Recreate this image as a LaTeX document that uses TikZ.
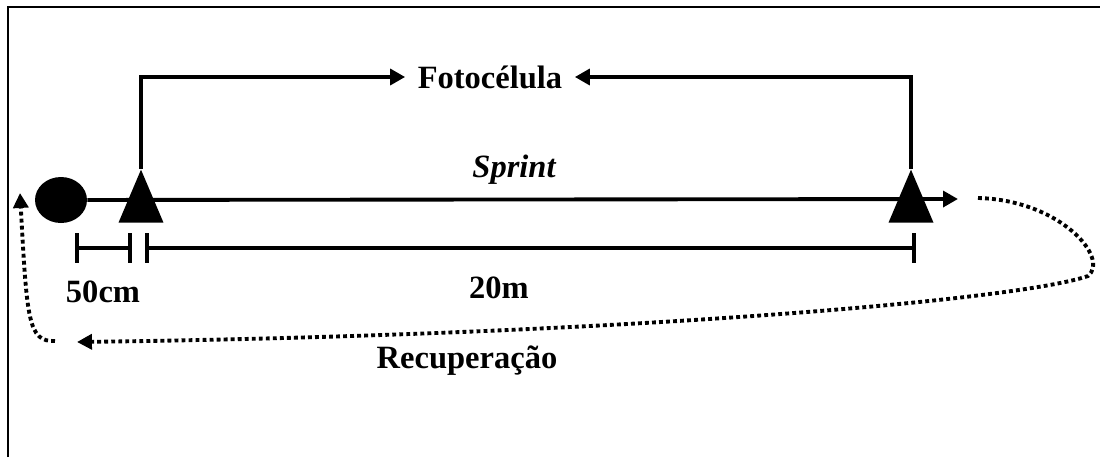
\documentclass[tikz,border=0pt]{standalone}
\usepackage{fontspec}
\setmainfont{Liberation Serif}
\usetikzlibrary{arrows.meta,shapes.geometric}
\tikzset{
    startmark/.style={ellipse,fill=black,minimum width=1.04cm,minimum height=0.92cm,inner sep=0pt},
    conemark/.style={isosceles triangle,shape border rotate=90,isosceles triangle stretches,fill=black,minimum width=0.9cm,minimum height=1.06cm,inner sep=0pt,anchor=lower side},
    tracklabel/.style={font=\fontsize{18.5}{22}\selectfont\bfseries,inner sep=2pt},
    sprintlabel/.style={font=\fontsize{18.5}{22}\selectfont\bfseries\itshape,inner sep=2pt},
    fotolabel/.style={tracklabel,inner xsep=7pt},
    trackline/.style={-{Triangle[length=8.5pt,width=9pt]},line width=2.2pt},
    measureline/.style={{Bar[width=17pt]}-{Bar[width=17pt]},line width=2.2pt},
    recline/.style={-{Triangle[length=8.5pt,width=8.5pt]},line width=2.2pt,dash pattern=on 2.2pt off 1.8pt},
    framebox/.style={line width=1.2pt}
}
\begin{document}
\begin{tikzpicture}[x=0.02cm,y=-0.02cm]
    \useasboundingbox (0,0) rectangle (1100,457);
    \draw[framebox] (8,457) -- (8,7) -- (1100,7);
    % start and cones
    \node[startmark] (start) at (61,200) {};
    \node[conemark] (cone1) at (141,223) {};
    \node[conemark] (cone2) at (911,223) {};
    \coordinate (sprintend) at (958,199);
    \node[fotolabel] (foto) at (490,77) {Fotocélula};
    \node[sprintlabel] (sprint) at (514,170) {Sprint};
    \draw[trackline] (start) -- (sprintend);
    \draw[trackline] (cone1.apex) |- (foto.west);
    \draw[trackline] (cone2.apex) |- (foto.east);
    % distances
    \coordinate (m50a) at (75,248);
    \coordinate (m50b) at (132,248);
    \coordinate (m20a) at (145,248);
    \coordinate (m20b) at (916,248);
    \draw[measureline] (m50a) -- (m50b);
    \draw[measureline] (m20a) -- (m20b);
    \node[tracklabel] (d50) at (103,292) {50cm};
    \node[tracklabel] (d20) at (499,288) {20m};
    % recovery
    \coordinate (recstart) at (978,198);
    \coordinate (recturn) at (1088,276);
    \coordinate (recend) at (77,342);
    \coordinate (recgap) at (55,341);
    \coordinate (recup) at (20,193);
    \draw[recline] (recstart) .. controls (1060,200) and (1110,258) .. (recturn)
        .. controls (1020,300) and (620,335) .. (recend);
    \draw[recline] (recgap) .. controls (28,342) and (27,320) .. (recup);
    \node[tracklabel] (rec) at (467,361) {Recuperação};
\end{tikzpicture}
\end{document}
